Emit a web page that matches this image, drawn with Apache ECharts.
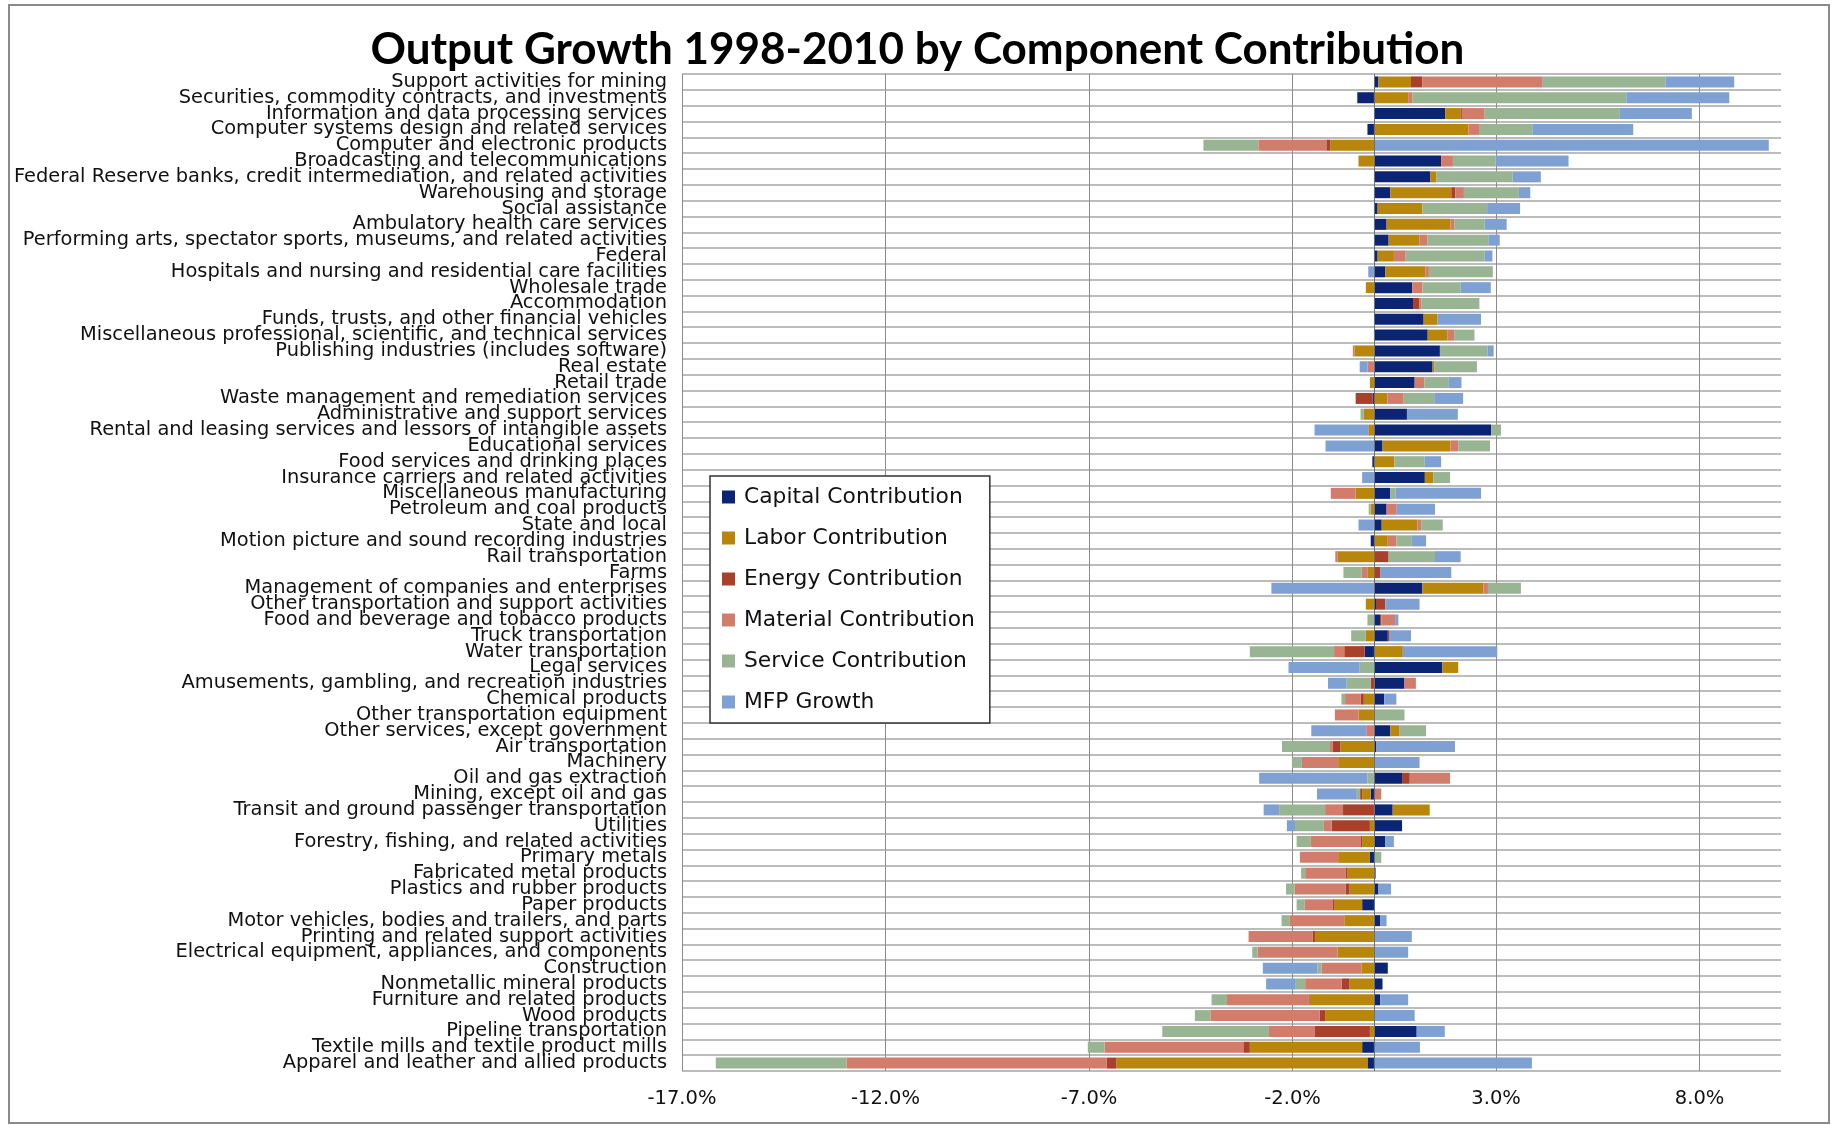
<!DOCTYPE html>
<html>
<head>
<meta charset="utf-8">
<script src="https://cdn.jsdelivr.net/npm/echarts@6/dist/echarts.min.js"></script>
<style>
html,body{margin:0;padding:0;background:#fff;}
#chart{width:1835px;height:1125px;}
</style>
</head>
<body>
<div id="chart"></div>
<script>
const categories = [
  "Support activities for mining",
  "Securities, commodity contracts, and investments",
  "Information and data processing services",
  "Computer systems design and related services",
  "Computer and electronic products",
  "Broadcasting and telecommunications",
  "Federal Reserve banks, credit intermediation, and related activities",
  "Warehousing and storage",
  "Social assistance",
  "Ambulatory health care services",
  "Performing arts, spectator sports, museums, and related activities",
  "Federal",
  "Hospitals and nursing and residential care facilities",
  "Wholesale trade",
  "Accommodation",
  "Funds, trusts, and other financial vehicles",
  "Miscellaneous professional, scientific, and technical services",
  "Publishing industries (includes software)",
  "Real estate",
  "Retail trade",
  "Waste management and remediation services",
  "Administrative and support services",
  "Rental and leasing services and lessors of intangible assets",
  "Educational services",
  "Food services and drinking places",
  "Insurance carriers and related activities",
  "Miscellaneous manufacturing",
  "Petroleum and coal products",
  "State and local",
  "Motion picture and sound recording industries",
  "Rail transportation",
  "Farms",
  "Management of companies and enterprises",
  "Other transportation and support activities",
  "Food and beverage and tobacco products",
  "Truck transportation",
  "Water transportation",
  "Legal services",
  "Amusements, gambling, and recreation industries",
  "Chemical products",
  "Other transportation equipment",
  "Other services, except government",
  "Air transportation",
  "Machinery",
  "Oil and gas extraction",
  "Mining, except oil and gas",
  "Transit and ground passenger transportation",
  "Utilities",
  "Forestry, fishing, and related activities",
  "Primary metals",
  "Fabricated metal products",
  "Plastics and rubber products",
  "Paper products",
  "Motor vehicles, bodies and trailers, and parts",
  "Printing and related support activities",
  "Electrical equipment, appliances, and components",
  "Construction",
  "Nonmetallic mineral products",
  "Furniture and related products",
  "Wood products",
  "Pipeline transportation",
  "Textile mills and textile product mills",
  "Apparel and leather and allied products"
];

const capital = [0.11,-0.41,1.75,-0.16,0,1.65,1.38,0.40,0.09,0.31,0.36,0.09,0.28,0.94,0.96,1.22,1.32,1.62,1.44,1.00,-0.03,0.81,2.88,0.21,-0.04,1.25,0.40,0.31,0.19,-0.08,0,0,1.19,0.05,0.15,0.34,-0.23,1.68,0.75,0.25,0,0.40,0.06,0,0.69,-0.08,0.46,0.69,0.28,-0.10,0.04,0.11,-0.29,0.15,0,0,0.34,0.21,0.15,0,1.05,-0.29,-0.16];

const labor = [0.80,0.84,0.38,2.32,-1.07,-0.38,0.15,1.50,1.10,1.57,0.76,0.40,0.98,-0.20,0,0.34,0.49,-0.48,0.05,-0.10,0.33,-0.25,-0.14,1.67,0.50,0.21,-0.45,-0.08,0.88,0.34,-0.89,-0.15,1.50,-0.20,0,-0.20,0.71,0.39,0,-0.25,-0.38,0.23,-0.83,-0.88,0,-0.21,0.91,-0.10,-0.29,-0.78,-0.66,-0.60,-0.69,-0.73,-1.45,-0.89,-0.31,-0.60,-1.58,-1.20,-0.10,-2.76,-6.17];

const energy = [0.28,0,0.03,0,-0.10,0,0,0.10,0,0,0,0,0,0,0.15,0,0,0,0,0,-0.42,0,0,0,0,0,0,0,0,0,0.36,0.15,0,0.23,0.03,0.03,-0.50,0,-0.08,-0.08,0,0,-0.19,0,0.19,-0.05,-0.76,-0.94,-0.03,0,-0.04,-0.10,-0.04,0,-0.05,0,0,-0.19,-0.03,-0.13,-1.35,-0.16,-0.24];

const material = [2.94,0.10,0.56,0.28,-1.67,0.29,0,0.21,0,0.10,0.19,0.29,0.09,0.25,0.05,0,0.16,-0.04,-0.16,0.24,0.40,0,0,0.19,0,0,-0.61,0.25,0.09,0.21,-0.06,-0.15,0.11,0,0.34,0,-0.25,0,0.28,-0.38,-0.58,-0.19,-0.06,-0.89,0.99,0.18,-0.44,-0.19,-1.23,-0.94,-0.99,-1.25,-0.69,-1.35,-1.58,-1.97,-0.98,-0.90,-2.00,-2.69,-1.13,-3.41,-6.39];

const service = [3.03,5.26,3.32,1.29,-1.35,1.05,1.88,1.35,1.59,0.74,1.50,1.94,1.57,0.94,1.43,0,0.50,1.17,1.04,0.60,0.75,-0.08,0.24,0.78,0.74,0.41,0.13,-0.05,0.53,0.38,1.14,-0.45,0.81,0,-0.16,-0.36,-2.07,-0.35,-0.59,-0.09,0.75,0.65,-1.18,-0.24,-0.16,-0.08,-1.13,-0.71,-0.35,0.18,-0.10,-0.21,-0.19,-0.19,0,-0.13,-0.10,-0.23,-0.38,-0.38,-2.62,-0.41,-3.21];

const mfp = [1.69,2.53,1.77,2.48,9.70,1.79,0.69,0.28,0.81,0.54,0.28,0.19,-0.14,0.74,0,1.07,0,0.15,-0.19,0.31,0.71,1.25,-1.32,-1.19,0.41,-0.29,2.10,0.94,-0.38,0.35,0.63,1.75,-2.52,0.84,0.08,0.54,2.32,-1.75,-0.46,0.30,0,-1.35,1.93,1.12,-2.66,-0.98,-0.38,-0.20,0.21,0,0,0.31,0,0.16,0.93,0.84,-1.34,-0.73,0.69,1.00,0.69,1.13,3.88];

const seriesNames = ["Capital Contribution","Labor Contribution","Energy Contribution","Material Contribution","Service Contribution","MFP Growth"];
const seriesColors = ["#0b2474","#b8860b","#a8402a","#d27c6c","#98b492","#7fa0d2"];
const seriesData = [capital, labor, energy, material, service, mfp];

const FONT = "DejaVu Sans";
const TITLE_FONT = "Lato";

const chart = echarts.init(document.getElementById('chart'), null, {renderer:'canvas'});

const series = seriesNames.map((name, i) => {
  const s = {
    name: name,
    type: 'bar',
    stack: 'total',
    data: seriesData[i],
    barWidth: 11,
    itemStyle: {color: seriesColors[i]},
    emphasis: {disabled: true},
    animation: false
  };
  if (i === 0) {
    s.markLine = {
      silent: true,
      symbol: ['none','none'],
      label: {show:false},
      lineStyle: {color:'#6f6f6f', width:1, type:'solid'},
      data: [{xAxis: 0}],
      z: 10,
      animation: false
    };
  }
  return s;
});

chart.setOption({
  animation: false,
  backgroundColor: '#ffffff',
  title: {
    text: 'Output Growth 1998-2010 by Component Contribution',
    left: 'center',
    top: 23,
    textStyle: {fontFamily: TITLE_FONT, fontWeight: 'bold', fontSize: 44, color: '#000'}
  },
  graphic: [{
    type: 'rect',
    shape: {x: 9, y: 5, width: 1820, height: 1118},
    style: {fill: 'none', stroke: '#8a8a8a', lineWidth: 2},
    silent: true
  }],
  legend: {
    orient: 'vertical',
    left: 710,
    top: 476,
    data: seriesNames,
    icon: 'rect',
    itemWidth: 13,
    itemHeight: 13,
    itemGap: 19,
    padding: [10, 15, 10, 12],
    backgroundColor: '#ffffff',
    borderColor: '#333333',
    borderWidth: 1.5,
    borderRadius: 0,
    textStyle: {fontFamily: FONT, fontSize: 21.8, color: '#111', lineHeight: 21, padding: [0,0,0,4]},
    z: 20
  },
  grid: {left: 682, right: 54, top: 74, bottom: 54, containLabel: false},
  xAxis: {
    type: 'value',
    min: -17,
    max: 10,
    interval: 5,
    axisLine: {show: false},
    axisTick: {show: false},
    axisLabel: {
      showMaxLabel: false,
      margin: 18,
      fontFamily: FONT,
      fontSize: 19.5,
      color: '#111',
      formatter: v => v.toFixed(1) + '%'
    },
    splitLine: {show: true, lineStyle: {color: ['#8c8c8c','#8c8c8c','#8c8c8c','#8c8c8c','#8c8c8c','#8c8c8c','rgba(0,0,0,0)'], width: 1}}
  },
  yAxis: {
    type: 'category',
    data: categories,
    inverse: true,
    axisLine: {show: false},
    axisTick: {show: false},
    axisLabel: {
      interval: 0,
      margin: 15,
      fontFamily: FONT,
      fontSize: 19.4,
      color: '#111'
    },
    splitLine: {show: true, interval: 0, lineStyle: {color: '#a6a6a6', width: 1.5}}
  },
  series: series
});
</script>
</body>
</html>
